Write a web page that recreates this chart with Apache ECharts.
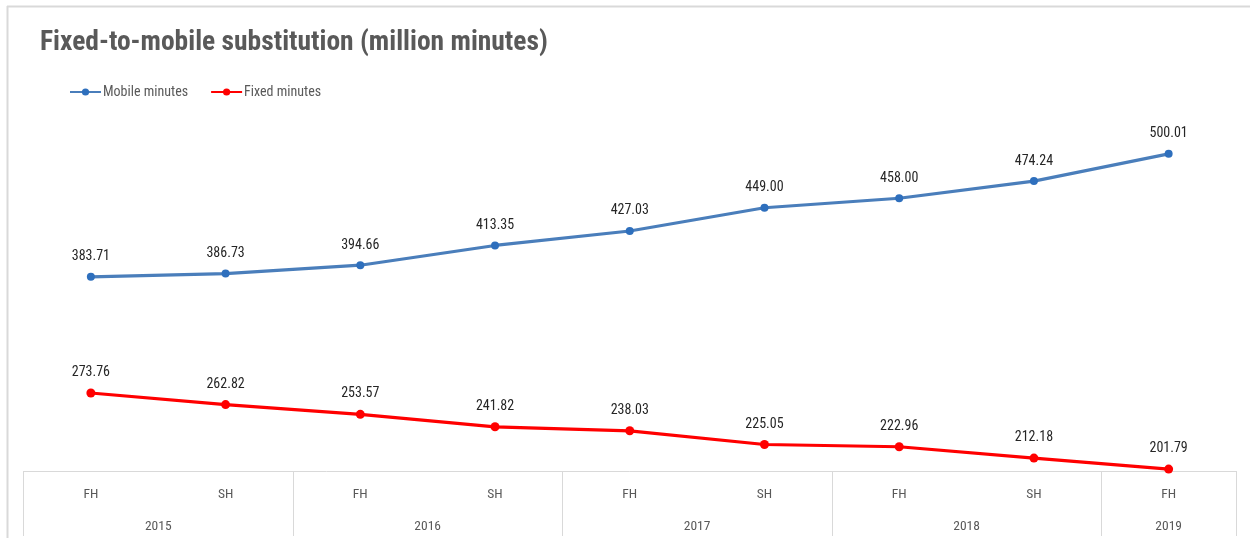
<!DOCTYPE html>
<html>
<head>
<meta charset="utf-8">
<title>Fixed-to-mobile substitution</title>
<script src="https://cdn.jsdelivr.net/npm/echarts@6/dist/echarts.min.js"></script>
<style>
  html, body { margin: 0; padding: 0; background: #ffffff; }
  #chart { width: 1250px; height: 543px; }
</style>
</head>
<body>
<div id="chart"></div>
<script>
// Half-year periods and their years
const halves = ['FH', 'SH', 'FH', 'SH', 'FH', 'SH', 'FH', 'SH', 'FH'];
const years = ['2015', '2016', '2017', '2018', '2019'];
// Year label positions (centre of each year's halves) and year boundaries on the index scale
const yearCentres = [0.5, 2.5, 4.5, 6.5, 8];
const yearBounds = [-0.5, 1.5, 3.5, 5.5, 7.5, 8.5];

// Traffic in million minutes
const mobileMinutes = [383.71, 386.73, 394.66, 413.35, 427.03, 449.00, 458.00, 474.24, 500.01];
const fixedMinutes = [273.76, 262.82, 253.57, 241.82, 238.03, 225.05, 222.96, 212.18, 201.79];

const FONT = '"Roboto Condensed", "DejaVu Sans Condensed", sans-serif';
const GRID_LINE = '#d9d9d9';

const chart = echarts.init(document.getElementById('chart'), null, { renderer: 'canvas' });

chart.setOption({
  backgroundColor: '#ffffff',
  animation: false,
  title: {
    text: 'Fixed-to-mobile substitution (million minutes)',
    left: 40,
    top: 29,
    padding: 0,
    textStyle: { fontFamily: FONT, fontSize: 27.5, fontWeight: 'bold', color: '#595959' }
  },
  legend: {
    left: 69,
    top: 85,
    padding: 0,
    itemWidth: 31,
    itemHeight: 9,
    itemGap: 22,
    textStyle: { fontFamily: FONT, fontSize: 14, color: '#595959', padding: [0, 0, 0, -3] },
    data: ['Mobile minutes', 'Fixed minutes']
  },
  graphic: [
    { type: 'line', shape: { x1: 7, y1: 6.5, x2: 1250, y2: 6.5 }, style: { stroke: GRID_LINE, lineWidth: 2 }, silent: true },
    { type: 'line', shape: { x1: 7.5, y1: 6, x2: 7.5, y2: 538 }, style: { stroke: GRID_LINE, lineWidth: 2 }, silent: true }
  ],
  grid: { left: 23.5, right: 14, top: 101, bottom: 72, containLabel: false },
  xAxis: [
    {
      type: 'category',
      data: halves,
      boundaryGap: true,
      axisLine: { show: true, lineStyle: { color: GRID_LINE, width: 1 } },
      axisTick: { show: false },
      axisLabel: { margin: 17, fontFamily: FONT, fontSize: 13.5, color: '#595959' },
      splitLine: { show: false }
    },
    {
      type: 'value',
      min: -0.5,
      max: 8.5,
      position: 'bottom',
      axisLine: { show: false },
      axisTick: {
        show: true,
        customValues: yearBounds,
        length: 65,
        lineStyle: { color: GRID_LINE, width: 1 }
      },
      axisLabel: {
        customValues: yearCentres,
        margin: 49,
        fontFamily: FONT,
        fontSize: 13.5,
        color: '#595959',
        formatter: function (v) {
          const i = yearCentres.indexOf(v);
          return i >= 0 ? years[i] : '';
        }
      },
      splitLine: { show: false }
    }
  ],
  yAxis: {
    type: 'value',
    min: 200,
    max: 550,
    show: false,
    splitLine: { show: false }
  },
  series: [
    {
      name: 'Mobile minutes',
      type: 'line',
      xAxisIndex: 0,
      data: mobileMinutes,
      symbol: 'circle',
      symbolSize: 8,
      lineStyle: { color: '#4a7ebb', width: 3.2 },
      itemStyle: { color: '#2e6fbd' },
      label: {
        show: true,
        position: 'top',
        distance: 9,
        fontFamily: FONT,
        fontSize: 14,
        color: '#262626',
        formatter: p => p.value.toFixed(2)
      }
    },
    {
      name: 'Fixed minutes',
      type: 'line',
      xAxisIndex: 0,
      data: fixedMinutes,
      symbol: 'circle',
      symbolSize: 9,
      lineStyle: { color: '#ff0000', width: 3.2 },
      itemStyle: { color: '#ff0000' },
      label: {
        show: true,
        position: 'top',
        distance: 9,
        fontFamily: FONT,
        fontSize: 14,
        color: '#262626',
        formatter: p => p.value.toFixed(2)
      }
    }
  ]
});
</script>
</body>
</html>
